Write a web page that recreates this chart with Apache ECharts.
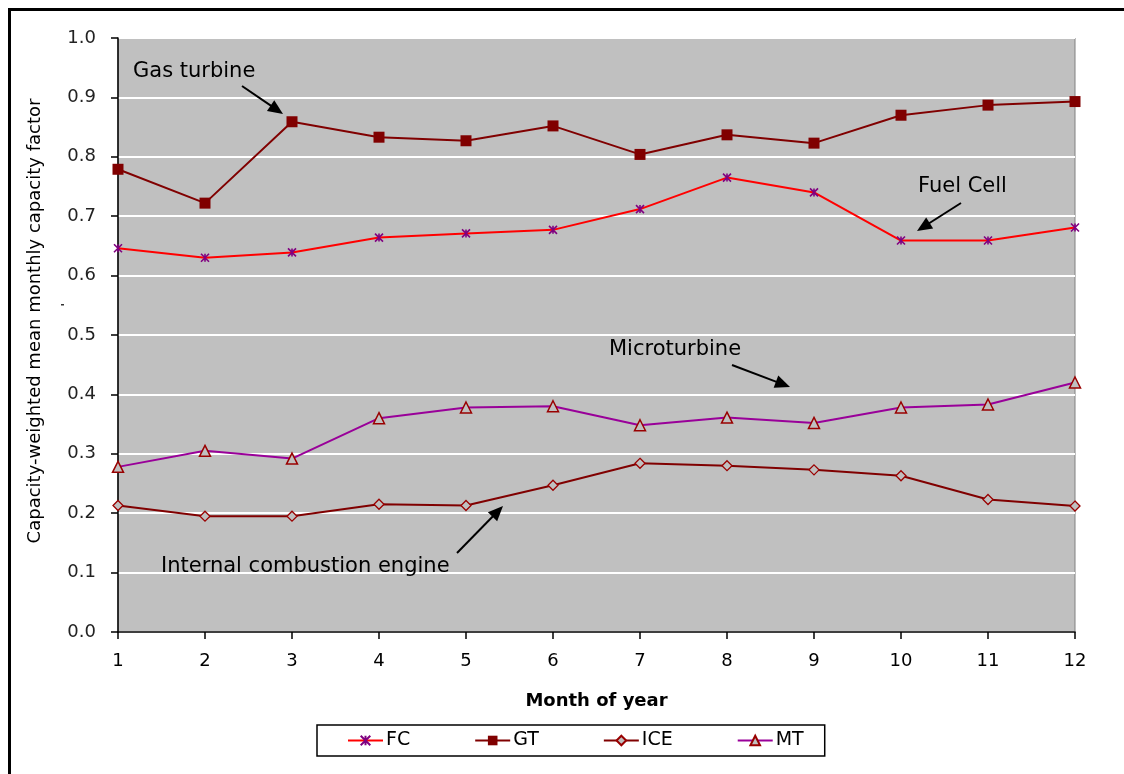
<!DOCTYPE html>
<html>
<head>
<meta charset="utf-8">
<script src="https://cdn.jsdelivr.net/npm/echarts@6/dist/echarts.min.js"></script>
<style>
html,body{margin:0;padding:0;background:#fff;}
#chart{width:1124px;height:774px;}
</style>
</head>
<body>
<div id="chart"></div>
<script>
var months = ['1','2','3','4','5','6','7','8','9','10','11','12'];
var fcValues  = [0.646,0.630,0.639,0.664,0.671,0.677,0.712,0.765,0.740,0.659,0.659,0.681];
var gtValues  = [0.779,0.722,0.859,0.833,0.827,0.852,0.804,0.837,0.823,0.870,0.887,0.893];
var iceValues = [0.213,0.195,0.195,0.215,0.213,0.247,0.284,0.280,0.273,0.263,0.223,0.212];
var mtValues  = [0.278,0.305,0.292,0.360,0.378,0.380,0.348,0.361,0.352,0.378,0.383,0.420];
var yTicks = ['0.0','0.1','0.2','0.3','0.4','0.5','0.6','0.7','0.8','0.9','1.0'];

var FONT = 'DejaVu Sans';
var chart = echarts.init(document.getElementById('chart'), null, {renderer:'canvas'});

function arrow(x1,y1,x2,y2){
  var dx=x2-x1, dy=y2-y1, L=Math.sqrt(dx*dx+dy*dy), ux=dx/L, uy=dy/L;
  var hl=15, hw=6.5;
  var bx=x2-ux*hl, by=y2-uy*hl;
  return [
    {type:'line', shape:{x1:x1,y1:y1,x2:bx+ux*2,y2:by+uy*2}, style:{stroke:'#000',lineWidth:2}, z:50},
    {type:'polygon', shape:{points:[[x2,y2],[bx-uy*hw,by+ux*hw],[bx+uy*hw,by-ux*hw]]}, style:{fill:'#000'}, z:50}
  ];
}
function label(text,x,y){
  return {type:'text', x:x, y:y, style:{text:text, font:'21px "'+FONT+'"', fill:'#000', align:'left', verticalAlign:'middle', textVerticalAlign:'middle'}, z:50};
}

var graphics = [
  {type:'rect', shape:{x:9.5,y:9.5,width:1140,height:800}, style:{fill:null, stroke:'#000', lineWidth:3}, z:60},
  {type:'rect', shape:{x:61,y:304,width:3,height:1.5}, style:{fill:'#333'}, z:60},
  {type:'text', x:35, y:321, rotation:Math.PI/2,
    style:{text:'Capacity-weighted mean monthly capacity factor', font:'18px "'+FONT+'"', fill:'#000',
      align:'center', verticalAlign:'middle', textAlign:'center', textVerticalAlign:'middle'}, z:50},
  label('Gas turbine',133,72),
  label('Fuel Cell',918,187),
  label('Microturbine',609,350),
  label('Internal combustion engine',161,567)
].concat(arrow(242,86,283,114))
 .concat(arrow(961,203,917,231))
 .concat(arrow(732,365,790,387))
 .concat(arrow(457,553,503,506));

var asterisk = 'path://M0,0L10,10M10,0L0,10M5,0L5,10';

chart.setOption({
  animation:false,
  backgroundColor:'#fff',
  textStyle:{fontFamily:FONT},
  grid:{left:118, right:49, top:38, bottom:142, show:true, backgroundColor:'#C0C0C0', borderColor:'#808080', borderWidth:1, containLabel:false},
  xAxis:{
    type:'category', data:months, boundaryGap:false,
    name:'Month of year', nameLocation:'middle', nameGap:60,
    nameTextStyle:{fontFamily:FONT, fontWeight:'bold', fontSize:18, color:'#000'},
    axisLine:{lineStyle:{color:'#000', width:1.5}},
    axisTick:{show:true, length:7, lineStyle:{color:'#000', width:1.5}, alignWithLabel:true},
    axisLabel:{fontFamily:FONT, fontSize:18, color:'#000', margin:20},
    splitLine:{show:false}
  },
  yAxis:{
    type:'value', min:0, max:1, interval:0.1,
    axisLine:{show:true, lineStyle:{color:'#000', width:1.5}},
    axisTick:{show:true, length:7, lineStyle:{color:'#000', width:1.5}},
    axisLabel:{fontFamily:FONT, fontSize:18, color:'#222', margin:22,
      formatter:function(v){ return yTicks[Math.round(v*10)]; }},
    splitLine:{show:true, lineStyle:{color:'#fff', width:2}}
  },
  legend:{
    left:317, top:725,
    padding:[6,21,6,30], itemGap:64, itemWidth:35, itemHeight:12,
    borderColor:'#000', borderWidth:1.5, backgroundColor:'#fff',
    textStyle:{fontFamily:FONT, fontSize:19, color:'#000', padding:[0,0,0,-2]},
    data:['FC','GT','ICE','MT']
  },
  series:[
    {name:'FC', type:'line', data:fcValues, symbol:asterisk, symbolSize:8,
      lineStyle:{color:'#FF0000', width:2}, itemStyle:{color:'#800080', borderColor:'#800080', borderWidth:1.6}, z:5},
    {name:'GT', type:'line', data:gtValues, symbol:'rect', symbolSize:11,
      lineStyle:{color:'#800000', width:2}, itemStyle:{color:'#800000', borderColor:'#800000', borderWidth:0}, z:6},
    {name:'ICE', type:'line', data:iceValues, symbol:'diamond', symbolSize:10,
      lineStyle:{color:'#800000', width:2}, itemStyle:{color:'#C0C0C0', borderColor:'#990000', borderWidth:1.3}, z:4},
    {name:'MT', type:'line', data:mtValues, symbol:'triangle', symbolSize:11,
      lineStyle:{color:'#990099', width:2}, itemStyle:{color:'#C0C0C0', borderColor:'#990000', borderWidth:1.5}, z:3}
  ],
  graphic:graphics
});
</script>
</body>
</html>
